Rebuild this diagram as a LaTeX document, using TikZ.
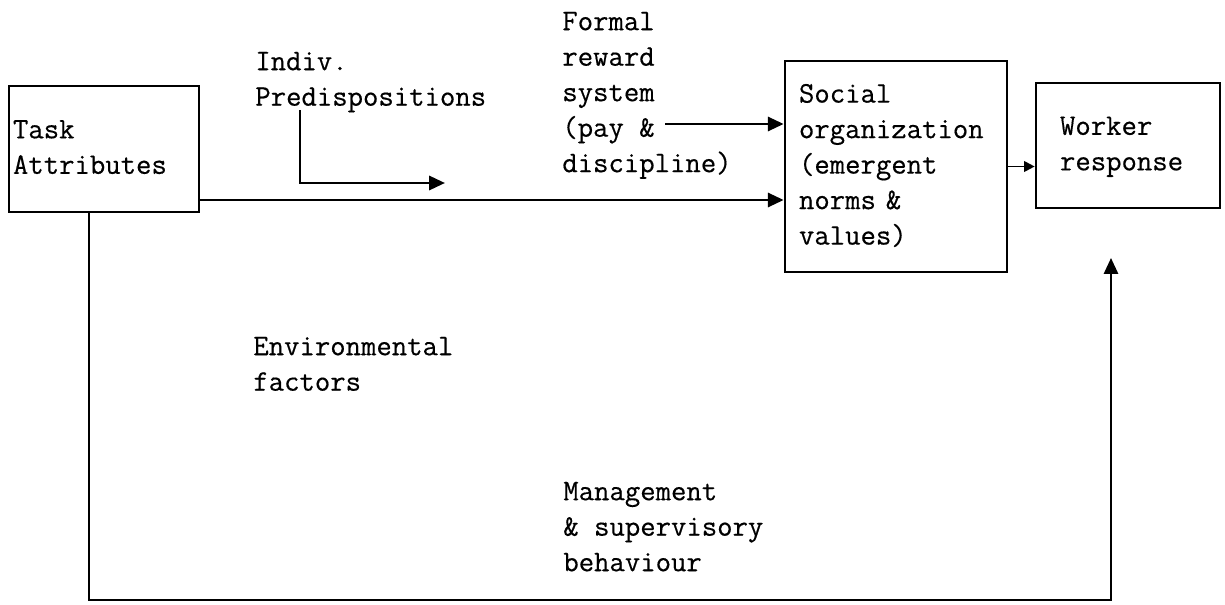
\documentclass[tikz,border=0pt]{standalone}
\usepackage{fontspec}
\setmonofont[FakeBold=0.4]{Latin Modern Mono}
\usepackage{tikz}
\usetikzlibrary{arrows.meta, positioning}
\setlength{\tabcolsep}{0pt}

\begin{document}
\begin{tikzpicture}[
    every node/.style={font=\ttfamily\fontsize{17pt}{20.2pt}\selectfont},
    box/.style={draw, line width=1.5pt, align=left},
    txt/.style={anchor=north west, inner sep=0pt},
    arr/.style={-{Triangle[length=9pt,width=8pt]}, line width=1.6pt},
    arrsmall/.style={-{Triangle[length=6pt,width=6pt]}, line width=1.1pt}]
      \useasboundingbox (0,0) rectangle (24.5,-12.1);
      % boxes
      \node[box, text width=3.64cm, inner xsep=0.08cm, minimum height=2.52cm] (task) at (2.08,-2.98) {
        \begin{tabular}{l}
          Task\\
          Attributes
        \end{tabular}
      };
      \node[box, text width=3.88cm, inner xsep=0.28cm, minimum height=4.22cm] (social) at (17.92,-3.33) {
        \begin{tabular}{l}
          Social\\
          organization\\
          (emergent\\
          norms \&\\
          values)
        \end{tabular}
      };
      \node[box, text width=2.72cm, inner xsep=0.48cm, minimum height=2.5cm] (worker) at (22.56,-2.91) {
        \begin{tabular}{l}
          Worker\\
          response
        \end{tabular}
      };
      % influences
      \node[txt] (indiv) at (5.10,-0.90) {
        \begin{tabular}{l}
          Indiv.\\
          Predispositions
        \end{tabular}
      };
      \node[txt] (reward) at (11.24,-0.10) {
        \begin{tabular}{l}
          Formal\\
          reward\\
          system\\
          (pay \&\\
          discipline)
        \end{tabular}
      };
      \node[txt] (env) at (5.06,-6.60) {
        \begin{tabular}{l}
          Environmental\\
          factors
        \end{tabular}
      };
      \node[txt] (mgmt) at (11.26,-9.50) {
        \begin{tabular}{l}
          Management\\
          \& supervisory\\
          behaviour
        \end{tabular}
      };
      \coordinate (mainrow) at (0,-4.0);
      \coordinate (payend) at (13.3,-2.48);
      \coordinate (indivtop) at (6.0,-2.2);
      \coordinate (indivend) at (8.9,-3.66);
      \coordinate (loopcorner) at (1.78,-12.0);
      \coordinate (loopend) at (22.22,-5.16);
      % connectors
      \draw[arr] (indivtop) |- (indivend);
      \draw[arr] (payend) -- (social.west |- payend);
      \draw[arr] (task.east |- mainrow) -- (social.west |- mainrow);
      \draw[arrsmall] (social.east) -- (worker.west |- social.east);
      \draw[arr, line width=1.3pt] (task.south -| loopcorner) -- (loopcorner) -| (loopend);
    \end{tikzpicture}
\end{document}
